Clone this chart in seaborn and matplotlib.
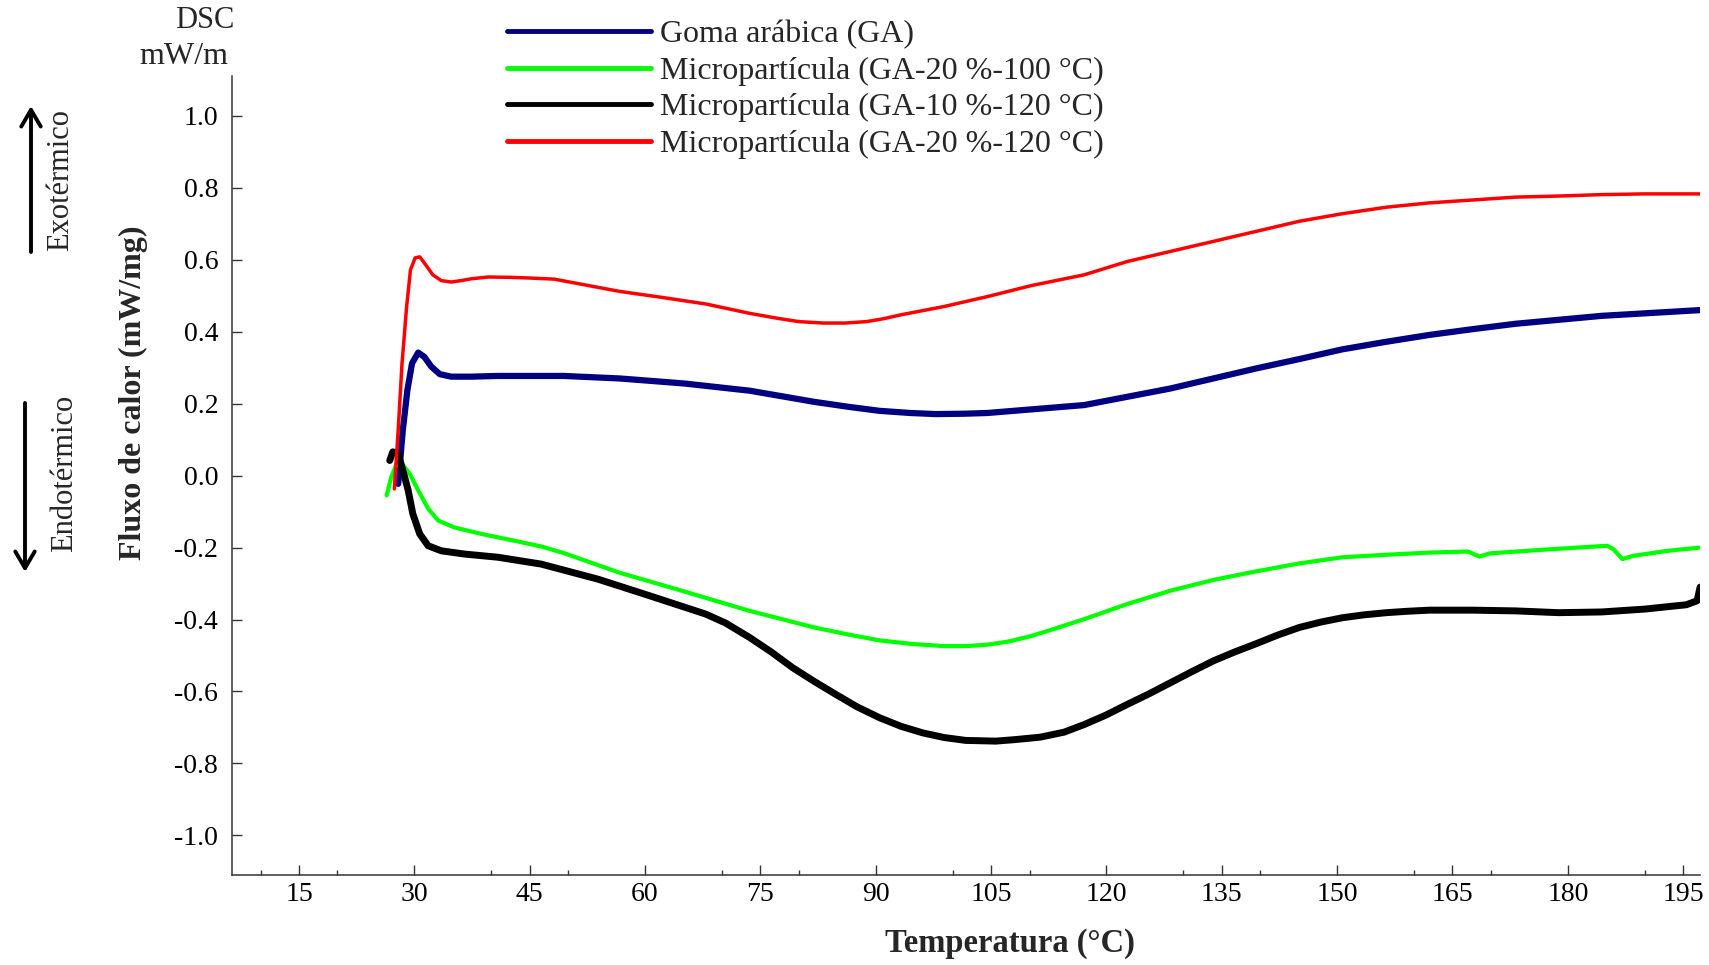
import seaborn as sns
import matplotlib.pyplot as plt
import matplotlib.ticker as mticker
from matplotlib.patches import FancyArrowPatch

# readings from the DSC curves (temperature in °C, heat flow in mW/mg)
ga_temp = [27.9, 28.5, 29.1, 29.7, 30.5, 31.3, 32.2, 33.3, 34.8, 37.4, 40.9, 45.2, 49.4, 56.7,
           65.1, 73.6, 82.0, 86.5, 90.5, 94.5, 97.8, 101.5, 104.5, 110.2, 117.1, 122.7, 128.3,
           133.9, 139.5, 145.1, 150.7, 156.4, 162.0, 167.6, 173.2, 178.8, 184.4, 190.0, 197.2]
ga_flux = [-0.023, 0.126, 0.238, 0.312, 0.342, 0.330, 0.303, 0.282, 0.275, 0.275, 0.277, 0.277,
           0.277, 0.270, 0.256, 0.236, 0.205, 0.191, 0.180, 0.174, 0.171, 0.172, 0.174, 0.184,
           0.196, 0.219, 0.242, 0.270, 0.298, 0.324, 0.351, 0.372, 0.391, 0.407, 0.422, 0.433,
           0.444, 0.451, 0.460]

g20_100_temp = [26.4, 27.0, 27.7, 28.2, 29.4, 30.5, 31.8, 33.1, 35.2, 38.7, 43.0, 46.5, 49.4,
                56.7, 65.1, 73.6, 82.0, 86.5, 90.5, 94.7, 98.9, 101.7, 104.5, 107.3, 110.2,
                113.5, 117.1, 122.7, 128.3, 133.9, 139.5, 145.1, 150.7, 156.4, 162.0, 167.0,
                168.5, 169.9, 176.1, 185.1, 185.9, 187.1, 188.5, 193.0, 197.2]
g20_100_flux = [-0.055, -0.004, 0.033, 0.038, 0.005, -0.041, -0.092, -0.125, -0.144, -0.162,
                -0.181, -0.197, -0.215, -0.270, -0.322, -0.376, -0.422, -0.442, -0.458, -0.468,
                -0.474, -0.474, -0.470, -0.461, -0.446, -0.424, -0.399, -0.357, -0.320, -0.290,
                -0.266, -0.244, -0.227, -0.220, -0.214, -0.211, -0.225, -0.216, -0.207, -0.195,
                -0.204, -0.232, -0.223, -0.209, -0.200]

g10_120_temp = [26.8, 27.2, 27.9, 28.5, 29.2, 29.8, 30.7, 31.8, 33.5, 36.5, 40.9, 46.5, 53.9,
                60.6, 67.9, 70.5, 73.6, 76.4, 79.2, 82.0, 84.8, 87.6, 90.5, 93.3, 96.1, 98.9,
                101.7, 105.6, 108.0, 111.4, 114.5, 117.1, 119.9, 122.7, 125.5, 128.3, 131.1,
                133.9, 136.7, 139.5, 142.3, 145.1, 147.9, 150.7, 153.5, 156.4, 159.2, 162.0,
                167.6, 173.2, 178.8, 184.4, 190.0, 195.4, 196.8, 197.2]
g10_120_flux = [0.042, 0.066, 0.061, 0.015, -0.041, -0.106, -0.162, -0.195, -0.209, -0.218,
                -0.227, -0.246, -0.288, -0.334, -0.385, -0.410, -0.450, -0.490, -0.534, -0.572,
                -0.608, -0.643, -0.673, -0.697, -0.715, -0.728, -0.736, -0.738, -0.734, -0.727,
                -0.713, -0.692, -0.666, -0.636, -0.607, -0.576, -0.545, -0.515, -0.490, -0.467,
                -0.443, -0.422, -0.407, -0.395, -0.387, -0.381, -0.377, -0.374, -0.374, -0.376,
                -0.381, -0.379, -0.371, -0.359, -0.348, -0.31]

g20_120_temp = [27.4, 27.9, 28.4, 29.0, 29.5, 30.1, 30.7, 31.3, 32.4, 33.5, 34.8, 36.1, 37.4,
                39.6, 42.6, 45.2, 48.2, 52.2, 56.7, 62.3, 67.9, 73.6, 77.0, 80.0, 83.2, 86.0,
                88.8, 91.0, 93.3, 98.9, 104.6, 110.2, 117.1, 122.7, 128.3, 133.9, 139.5, 145.1,
                150.7, 156.4, 162.0, 167.6, 173.2, 178.8, 184.4, 190.0, 197.2]
g20_120_flux = [-0.037, 0.126, 0.312, 0.470, 0.572, 0.605, 0.608, 0.591, 0.558, 0.542, 0.538,
                0.542, 0.547, 0.552, 0.551, 0.549, 0.546, 0.530, 0.512, 0.495, 0.477, 0.451,
                0.438, 0.428, 0.424, 0.424, 0.428, 0.436, 0.447, 0.470, 0.498, 0.528, 0.558,
                0.595, 0.623, 0.651, 0.679, 0.707, 0.728, 0.746, 0.758, 0.766, 0.774, 0.777,
                0.781, 0.783, 0.783]

labels = ['Goma arábica (GA)', 'Micropartícula (GA-20 %-100 °C)',
          'Micropartícula (GA-10 %-120 °C)', 'Micropartícula (GA-20 %-120 °C)']
colors = ['#000080', '#00ff00', '#000000', '#ff0000']
widths = [4.5, 3.0, 5.0, 2.5]
y_ticks = [-1.0, -0.8, -0.6, -0.4, -0.2, 0.0, 0.2, 0.4, 0.6, 0.8, 1.0]

sns.set_theme(style='ticks')
plt.rcParams['font.family'] = ['Liberation Serif', 'DejaVu Serif']
plt.rcParams['axes.unicode_minus'] = False

fig = plt.figure(figsize=(17.09, 9.65), dpi=100)
ax = fig.add_axes([0.1358, 0.0933, 0.8590, 0.8277])

series = [(ga_temp, ga_flux), (g20_100_temp, g20_100_flux),
          (g10_120_temp, g10_120_flux), (g20_120_temp, g20_120_flux)]
for (t, f), lab, c, w in zip(series, labels, colors, widths):
    sns.lineplot(x=t, y=f, ax=ax, color=c, linewidth=w, label=lab, sort=False, estimator=None,
                 solid_joinstyle='round')

ax.set_xlim(6.3, 197.2)
ax.set_ylim(-1.11, 1.11)
ax.set_xticks(range(15, 196, 15))
ax.xaxis.set_minor_locator(mticker.FixedLocator([v for v in range(10, 200, 10) if v % 15 != 0]))
ax.set_yticks(y_ticks)
ax.set_yticklabels(['%.1f' % v for v in y_ticks])

for s in ['top', 'right']:
    ax.spines[s].set_visible(False)
for s in ['left', 'bottom']:
    ax.spines[s].set_color('#333333')
    ax.spines[s].set_linewidth(1.1)
ax.tick_params(axis='both', which='major', direction='in', length=7, width=1, colors='#333333',
               labelcolor='black')
ax.tick_params(axis='x', which='minor', direction='in', length=3.6, width=1, colors='#333333')
ax.tick_params(axis='x', labelsize=20, pad=5)
ax.tick_params(axis='y', labelsize=20, pad=10)

ax.set_xlabel('Temperatura (°C)', fontsize=23.5, fontweight='bold')
ax.xaxis.set_label_coords(0.530, -0.066)
ax.set_ylabel('Fluxo de calor (mW/mg)', fontsize=23, fontweight='bold')
ax.yaxis.set_label_coords(-0.057, 0.604)

ax.get_legend().remove()
handles, labs = ax.get_legend_handles_labels()
leg = fig.legend(handles, labs, loc='upper left', bbox_to_anchor=(0.2967, 0.979), frameon=False,
                 fontsize=23, handlelength=4.5, handletextpad=0.28, labelspacing=0.22,
                 borderpad=0, borderaxespad=0)
for ln in leg.get_lines():
    ln.set_linewidth(3.5)

fig.text(205 / 1709, 1 - 20 / 965, 'DSC', fontsize=22, ha='center', va='center')
fig.text(228 / 1709, 1 - 57 / 965, 'mW/m', fontsize=23, ha='right', va='center')
fig.text(61 / 1709, 1 - 180 / 965, 'Exotérmico', fontsize=22, rotation=90, ha='center', va='center')
fig.text(65 / 1709, 1 - 473 / 965, 'Endotérmico', fontsize=22, rotation=90, ha='center', va='center')

for x0, y0, y1 in [(31, 252, 106), (25, 403, 572)]:
    fig.add_artist(FancyArrowPatch((x0 / 1709, 1 - y0 / 965), (x0 / 1709, 1 - y1 / 965),
                                   transform=fig.transFigure,
                                   arrowstyle='->,head_length=12,head_width=7', lw=2.8,
                                   color='black', shrinkA=0, shrinkB=0))

fig.savefig('out.png', dpi=100)
plt.close(fig)
